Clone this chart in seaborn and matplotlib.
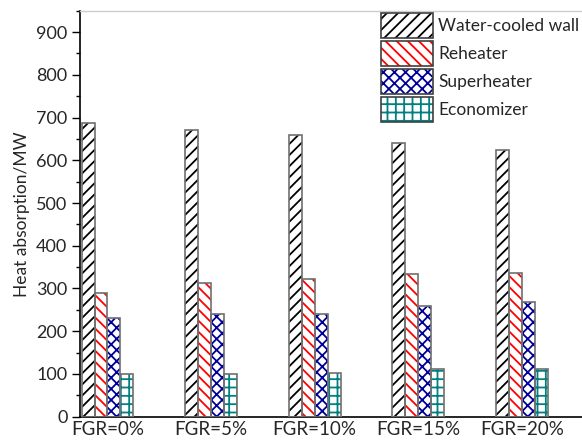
import pandas as pd
import numpy as np
import seaborn as sns
import matplotlib.pyplot as plt
from matplotlib.patches import Patch, Rectangle
from matplotlib.legend_handler import HandlerTuple
from matplotlib.ticker import MultipleLocator

# --- dati ---
casi = ['FGR=0%', 'FGR=5%', 'FGR=10%', 'FGR=15%', 'FGR=20%']
parti = ['Water-cooled wall', 'Reheater', 'Superheater', 'Economizer']
water_wall = [687, 672, 658, 641, 624]
reheater = [290, 312, 322, 335, 336]
superheater = [230, 240, 241, 258, 268]
economizer = [101, 101, 102, 112, 112]

serie = [water_wall, reheater, superheater, economizer]
df = pd.DataFrame({
    'case': casi * len(parti),
    'part': [p for p in parti for _ in casi],
    'value': [v for s in serie for v in s],
})

hatches = ['///', '\\\\\\', 'xxx', '++']
hcolors = ['black', '#ff0000', '#000099', '#008080']
bordo = '#707070'

sns.set_style("white")
plt.rcParams['font.family'] = ['Lato', 'DejaVu Sans']
plt.rcParams['hatch.linewidth'] = 1.3

fig = plt.figure(figsize=(5.82, 4.41), dpi=100)
ax = fig.add_axes([80 / 582, 1 - 416.7 / 441, 1 - 80 / 582, (416.7 - 10.7) / 441])

sns.barplot(data=df, x='case', y='value', hue='part', order=casi, hue_order=parti,
            width=0.5, gap=0, legend=False, ax=ax, palette=['white'] * 4)

# tratteggio colorato + bordo grigio sopra
for cont, h, c in zip(ax.containers, hatches, hcolors):
    for bar in cont:
        bar.set_facecolor('white')
        bar.set_hatch(h)
        bar.set_edgecolor(c)
        bar.set_linewidth(0)
        ax.add_patch(Rectangle(bar.get_xy(), bar.get_width(), bar.get_height(),
                               fill=False, edgecolor=bordo, linewidth=1.2, zorder=3))

ax.set_ylim(0, 950)
ax.set_xlim(-0.265, 4.58)
ax.set_yticks(np.arange(0, 901, 100))
ax.yaxis.set_minor_locator(MultipleLocator(50))
ax.tick_params(axis='y', which='major', direction='out', length=6, width=1, left=True,
               labelsize=13, pad=3, color='black')
ax.tick_params(axis='y', which='minor', direction='out', length=3, width=1, left=True, color='black')
ax.tick_params(axis='x', length=0, labelsize=13.5, pad=3)

ax.set_xlabel('')
ax.set_ylabel('Heat absorption/MW', fontsize=12.5)
ax.yaxis.set_label_coords(-0.10, 0.5)

for s in ['left', 'bottom']:
    ax.spines[s].set_color('black')
    ax.spines[s].set_linewidth(1.2)
ax.spines['top'].set_color('#cccccc')
ax.spines['top'].set_linewidth(1)
ax.spines['right'].set_visible(False)

# legenda: tratteggio colorato con bordo scuro sovrapposto
handles = [(Patch(facecolor='white', edgecolor=c, hatch=h, linewidth=0),
            Patch(fill=False, edgecolor='#404040', linewidth=1.2))
           for h, c in zip(hatches, hcolors)]
ax.legend(handles, parti, loc='upper right', bbox_to_anchor=(1.0, 1.0), frameon=False,
          fontsize=12.5, handlelength=3.0, handleheight=1.83, handletextpad=0.3,
          labelspacing=0.17, borderaxespad=0.05, borderpad=0.1,
          handler_map={tuple: HandlerTuple(ndivide=1, pad=0)})

fig.savefig('out.png', dpi=100)
